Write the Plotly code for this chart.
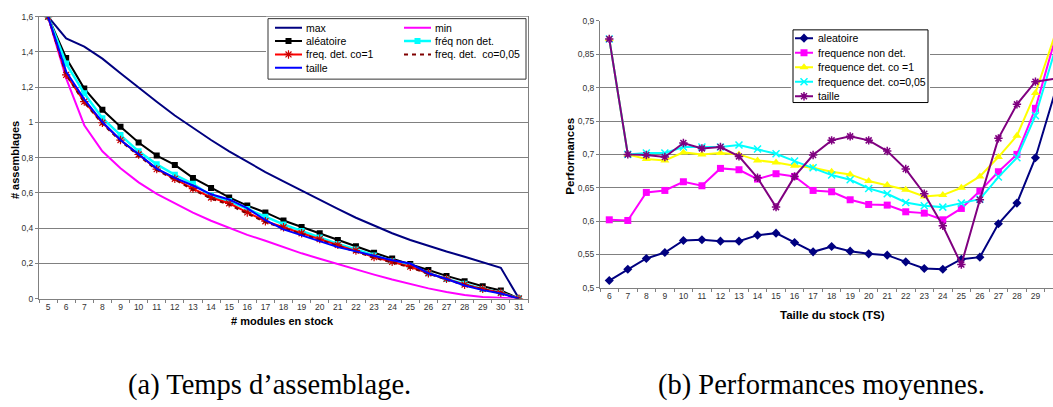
import plotly.graph_objects as go

W, H = 1053, 407
FONT = "Liberation Sans"
SERIF = "Liberation Serif"
GRID = "#808080"

# ---------------- (a) Temps d'assemblage ----------------
stock_a = [str(v) for v in range(5, 32)]
a_max = [1.600, 1.477, 1.430, 1.362, 1.279, 1.196, 1.117, 1.039, 0.969, 0.900, 0.836, 0.775, 0.718, 0.665,
         0.612, 0.560, 0.509, 0.459, 0.413, 0.371, 0.333, 0.298, 0.267, 0.238, 0.207, 0.175, 0.000]
a_min = [1.600, 1.250, 0.984, 0.836, 0.740, 0.660, 0.595, 0.540, 0.488, 0.442, 0.400, 0.362, 0.328, 0.292,
         0.257, 0.226, 0.195, 0.166, 0.136, 0.108, 0.081, 0.058, 0.038, 0.021, 0.009, 0.003, 0.000]
a_aleatoire = [1.600, 1.366, 1.192, 1.072, 0.975, 0.886, 0.812, 0.759, 0.685, 0.628, 0.574, 0.528, 0.489, 0.443,
               0.406, 0.371, 0.332, 0.297, 0.260, 0.227, 0.196, 0.162, 0.129, 0.098, 0.070, 0.046, 0.000]
a_freq_non_det = [1.600, 1.334, 1.165, 1.024, 0.928, 0.836, 0.762, 0.703, 0.652, 0.585, 0.554, 0.508, 0.465, 0.421,
                  0.384, 0.347, 0.310, 0.279, 0.245, 0.212, 0.187, 0.144, 0.112, 0.085, 0.055, 0.033, 0.000]
a_freq_det_1 = [1.600, 1.270, 1.118, 0.998, 0.900, 0.818, 0.735, 0.680, 0.624, 0.574, 0.541, 0.489, 0.439, 0.405,
                0.371, 0.338, 0.305, 0.273, 0.236, 0.209, 0.181, 0.144, 0.112, 0.079, 0.055, 0.033, 0.000]
a_freq_det_005 = [1.600, 1.270, 1.113, 0.993, 0.895, 0.812, 0.730, 0.675, 0.618, 0.568, 0.533, 0.482, 0.434, 0.400,
                  0.366, 0.333, 0.300, 0.268, 0.232, 0.205, 0.177, 0.141, 0.109, 0.077, 0.053, 0.031, 0.000]
a_taille = [1.600, 1.288, 1.131, 1.002, 0.900, 0.818, 0.738, 0.685, 0.642, 0.592, 0.563, 0.513, 0.445, 0.393,
            0.360, 0.328, 0.292, 0.268, 0.242, 0.218, 0.199, 0.144, 0.111, 0.074, 0.048, 0.029, 0.000]
a_names = ["max", "min", "aléatoire", "fréq non det.", "freq. det. co=1", "freq. det.\u00a0 co=0,05", "taille"]

# ---------------- (b) Performances moyennes ----------------
stock_b = [str(v) for v in range(6, 31)]
b_aleatoire = [0.511, 0.528, 0.544, 0.553, 0.571, 0.572, 0.570, 0.570, 0.579, 0.582, 0.568, 0.554, 0.562,
               0.555, 0.551, 0.549, 0.539, 0.529, 0.528, 0.543, 0.546, 0.596, 0.627, 0.695, 0.788]
b_freq_non_det = [0.602, 0.601, 0.643, 0.646, 0.659, 0.653, 0.679, 0.677, 0.663, 0.671, 0.667, 0.646, 0.644,
                  0.632, 0.625, 0.624, 0.614, 0.612, 0.602, 0.619, 0.645, 0.674, 0.700, 0.769, 0.867]
b_freq_det_1 = [0.873, 0.700, 0.693, 0.691, 0.703, 0.700, 0.702, 0.700, 0.691, 0.688, 0.683, 0.680, 0.674,
                0.670, 0.660, 0.654, 0.647, 0.637, 0.639, 0.650, 0.667, 0.696, 0.728, 0.792, 0.875]
b_freq_det_005 = [0.873, 0.700, 0.702, 0.702, 0.711, 0.711, 0.711, 0.714, 0.708, 0.701, 0.690, 0.680, 0.669,
                  0.662, 0.649, 0.641, 0.628, 0.623, 0.621, 0.627, 0.633, 0.666, 0.695, 0.758, 0.851]
b_taille = [0.873, 0.700, 0.699, 0.696, 0.717, 0.709, 0.711, 0.697, 0.665, 0.621, 0.667, 0.699, 0.721,
            0.727, 0.721, 0.705, 0.678, 0.641, 0.593, 0.535, 0.632, 0.724, 0.775, 0.809, 0.813]
b_names = ["aleatoire", "frequence non det.", "frequence det. co =1", "frequence det. co=0,05", "taille"]

captions = ["(a) Temps d\u2019assemblage.", "(b) Performances moyennes."]
a_xtitle, a_ytitle = "# modules en stock", "# assemblages"
b_xtitle, b_ytitle = "Taille du stock (TS)", "Performances"

# ---------------- styles ----------------
a_values = [a_max, a_min, a_aleatoire, a_freq_non_det, a_freq_det_1, a_freq_det_005, a_taille]
a_styles = [
    dict(line=dict(color="#000080", width=2)),
    dict(line=dict(color="#FF00FF", width=2)),
    dict(line=dict(color="#000000", width=2), marker=dict(symbol="square", size=6, color="#000000")),
    dict(line=dict(color="#00FFFF", width=2.5), marker=dict(symbol="square", size=6, color="#00FFFF")),
    dict(line=dict(color="#FF0000", width=2),
         marker=dict(symbol="asterisk-open", size=7, color="#CC0000", line=dict(color="#CC0000", width=1.2))),
    dict(line=dict(color="#800000", width=2, dash="4px,4px")),
    dict(line=dict(color="#0000FF", width=2)),
]
b_values = [b_aleatoire, b_freq_non_det, b_freq_det_1, b_freq_det_005, b_taille]
b_styles = [
    dict(line=dict(color="#000080", width=2), marker=dict(symbol="diamond", size=7, color="#000080")),
    dict(line=dict(color="#FF00FF", width=2), marker=dict(symbol="square", size=7, color="#FF00FF")),
    dict(line=dict(color="#FFFF00", width=2), marker=dict(symbol="triangle-up", size=8, color="#FFFF00")),
    dict(line=dict(color="#00FFFF", width=2),
         marker=dict(symbol="x-thin-open", size=7, color="#00FFFF", line=dict(color="#00FFFF", width=1.5))),
    dict(line=dict(color="#800080", width=2),
         marker=dict(symbol="asterisk-open", size=7, color="#800080", line=dict(color="#800080", width=1.5))),
]

fig = go.Figure()

for name, vals, st in zip(a_names, a_values, a_styles):
    fig.add_trace(go.Scatter(x=stock_a, y=vals, name=name, mode="lines+markers" if "marker" in st else "lines",
                             xaxis="x", yaxis="y", showlegend=False, **st))
for name, vals, st in zip(b_names, b_values, b_styles):
    fig.add_trace(go.Scatter(x=stock_b, y=vals, name=name, mode="lines+markers", cliponaxis=False,
                             xaxis="x2", yaxis="y2", showlegend=False, **st))


# ---------------- custom legends (pixel-space overlay axes) ----------------
def legend_axes(idx, x0, y0, x1, y1):
    pad = 2
    xa = dict(domain=[(x0 - pad) / W, (x1 + pad) / W], range=[x0 - pad, x1 + pad], visible=False,
              anchor="y%d" % idx, fixedrange=True)
    ya = dict(domain=[1 - (y1 + pad) / H, 1 - (y0 - pad) / H], range=[y1 + pad, y0 - pad], visible=False,
              anchor="x%d" % idx, fixedrange=True)
    return xa, ya


def draw_legend(idx, box, names, styles, pos, sym_len, text_gap, fsize, border):
    x0, y0, x1, y1 = box
    xr, yr = "x%d" % idx, "y%d" % idx
    fig.add_trace(go.Scatter(x=[x0, x1, x1, x0, x0], y=[y0, y0, y1, y1, y0], mode="lines", fill="toself",
                             fillcolor="white", line=dict(color=border, width=1), xaxis=xr, yaxis=yr,
                             hoverinfo="skip", showlegend=False))
    for name, st, (sx, sy) in zip(names, styles, pos):
        fig.add_trace(go.Scatter(x=[sx, sx + sym_len], y=[sy, sy], mode="lines", line=st["line"],
                                 xaxis=xr, yaxis=yr, hoverinfo="skip", showlegend=False))
        if "marker" in st:
            fig.add_trace(go.Scatter(x=[sx + sym_len / 2], y=[sy], mode="markers", marker=st["marker"],
                                     xaxis=xr, yaxis=yr, hoverinfo="skip", showlegend=False))
        fig.add_annotation(x=sx + sym_len + text_gap, y=sy, xref=xr, yref=yr, text=name, showarrow=False,
                           xanchor="left", yanchor="middle", font=dict(family=FONT, size=fsize, color="#000"))


a_box = (268, 14, 526, 76)
a_pos = [([275, 404][i % 2], 23.3 + 13.7 * (i // 2)) for i in range(len(a_names))]
b_box = (793, 25.5, 928, 100)
b_pos = [(795, 34 + 14.9 * i) for i in range(len(b_names))]

xa3, ya3 = legend_axes(3, *a_box)
xa4, ya4 = legend_axes(4, *b_box)
draw_legend(3, a_box, a_names, a_styles, a_pos, 27, 2, 10.5, "#333333")
draw_legend(4, b_box, b_names, b_styles, b_pos, 18, 3, 10.5, "#000000")

tickfont = dict(family=FONT, size=8.5, color="#333333")
common_x = dict(type="category", tickson="boundaries", ticks="outside", ticklen=3, tickcolor=GRID, tickangle=0,
                showline=True, linecolor=GRID, showgrid=False, tickfont=tickfont, fixedrange=True)
common_y = dict(ticks="outside", ticklen=3, tickcolor=GRID, showline=True, linecolor=GRID, showgrid=True,
                gridcolor=GRID, gridwidth=1, zeroline=False, tickfont=tickfont, fixedrange=True)

fig.update_layout(
    width=W, height=H, margin=dict(l=0, r=0, t=0, b=0),
    paper_bgcolor="white", plot_bgcolor="white", separators=", ", showlegend=False,
    font=dict(family=FONT, size=9, color="#333333"),
    xaxis=dict(domain=[39 / W, 528 / W], range=[-0.5, len(stock_a) - 0.5], anchor="y", mirror=True, **common_x),
    yaxis=dict(domain=[1 - 301 / H, 1 - 12 / H], range=[0, 1.6], dtick=0.2, tick0=0, anchor="x", mirror=True,
               **common_y),
    xaxis2=dict(domain=[600 / W, 1.0], range=[-0.5, -0.5 + (W - 600) / 18.53], anchor="y2", **common_x),
    yaxis2=dict(domain=[1 - 290 / H, 1 - 16.3 / H], range=[0.5, 0.9], dtick=0.05, tick0=0.5, anchor="x2",
                **common_y),
    xaxis3=xa3, yaxis3=ya3, xaxis4=xa4, yaxis4=ya4,
)


def text_at(px, py, text, font, angle=0):
    fig.add_annotation(x=px / W, y=1 - py / H, xref="paper", yref="paper", text=text, showarrow=False,
                       xanchor="center", yanchor="middle", textangle=angle, font=font)


title_a = dict(family=FONT, size=11, color="#000")
title_b = dict(family=FONT, size=11.5, color="#000")
text_at(282, 324, "<b>%s</b>" % a_xtitle, title_a)
text_at(15, 159, "<b>%s</b>" % a_ytitle, title_a, -90)
text_at(832, 318, "<b>%s</b>" % b_xtitle, title_b)
text_at(570, 155.5, "<b>%s</b>" % b_ytitle, title_b, -90)

cap_font = dict(family=SERIF, size=28.5, color="#000")
text_at(269.5, 390, captions[0], cap_font)
text_at(821, 390, captions[1], cap_font)

fig.write_html("out.html", config={"displayModeBar": False, "staticPlot": True},
               post_script="document.body.style.margin='0';document.body.style.overflow='hidden';")
